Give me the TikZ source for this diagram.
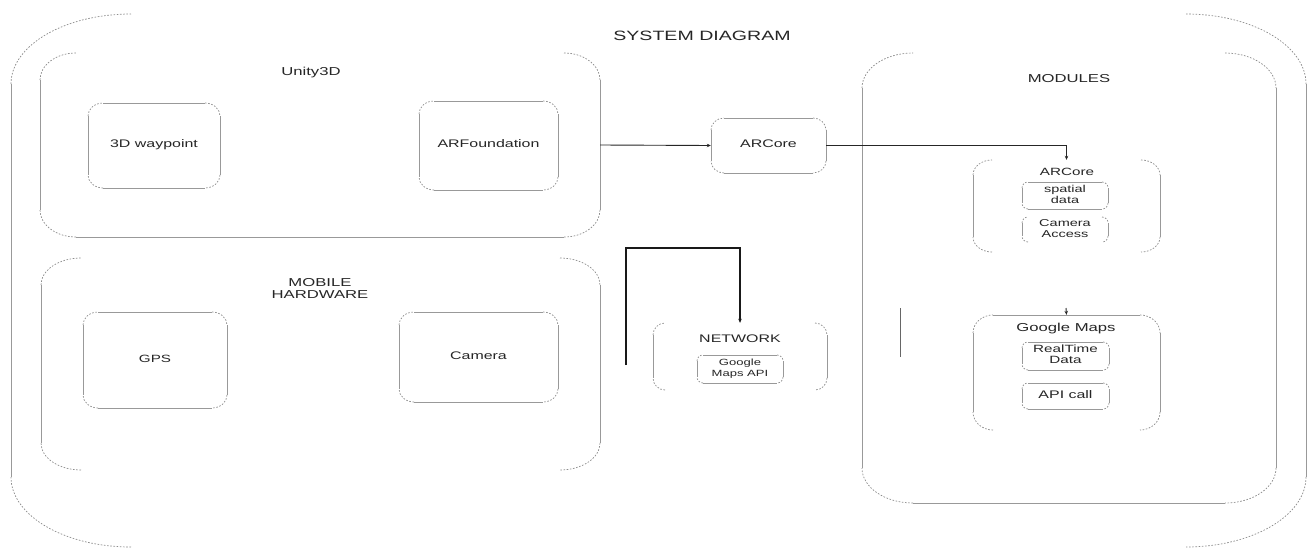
\documentclass[tikz,border=0pt]{standalone}
\usepackage{fontspec}
\setmainfont{Liberation Sans}
\usetikzlibrary{arrows.meta}
\newcommand\wtxt[3]{\scalebox{1.45}[1]{\fontsize{#1}{#2}\selectfont\begin{tabular}{@{}c@{}}#3\end{tabular}}}
\tikzset{
  cornerline/.style={draw=black!45, line width=0.7pt, dash pattern=on 1.6pt off 1.6pt},
  sideline/.style={draw=black!40, line width=0.8pt},
  lbl/.style={inner sep=0pt, text=black!85},
  conn/.style={draw=black!85, line width=0.9pt, -{Stealth[length=4pt,width=3.5pt]}},
  heavyconn/.style={draw=black!90, line width=1.3pt, -{Stealth[length=4pt,width=3.5pt]}},
  orphan/.style={draw=black!60, line width=1pt},
}
% name, x1, y1, x2, y2, rx, ry, top line?, bottom line?
\newcommand\contbox[9]{%
  \node[inner sep=0pt, minimum width={(#4-#2)*1pt}, minimum height={(#5-#3)*1pt}] (#1) at ({(#2+#4)/2},{(#3+#5)/2}) {};
  \draw[cornerline] (#2,{#3+#7}) arc[start angle=180,end angle=270,x radius=#6,y radius=#7];
  \draw[cornerline] ({#4-#6},#3) arc[start angle=270,end angle=360,x radius=#6,y radius=#7];
  \draw[cornerline] (#4,{#5-#7}) arc[start angle=0,end angle=90,x radius=#6,y radius=#7];
  \draw[cornerline] ({#2+#6},#5) arc[start angle=90,end angle=180,x radius=#6,y radius=#7];
  \draw[sideline] (#2,{#3+#7}) -- (#2,{#5-#7});
  \draw[sideline] (#4,{#3+#7}) -- (#4,{#5-#7});
  \ifnum#8=1 \draw[sideline] ({#2+#6},#3) -- ({#4-#6},#3);\fi
  \ifnum#9=1 \draw[sideline] ({#2+#6},#5) -- ({#4-#6},#5);\fi
}
\begin{document}
\begin{tikzpicture}[x=1pt,y=-1pt]
\useasboundingbox[fill=white] (0,0) rectangle (1312,549);

% containers
\contbox{outer}{11}{14}{1306}{547}{120}{70}{0}{0}
\contbox{unity}{40}{53}{600}{237}{36}{27}{0}{1}
\contbox{wp}{88}{103}{220}{188}{15}{13}{1}{1}
\contbox{arf}{419}{101}{558}{190}{15}{13}{1}{1}
\contbox{mobile}{41}{258}{600}{470}{40}{27}{0}{0}
\contbox{gps}{83}{312}{227}{408}{15}{13}{1}{1}
\contbox{cam}{399}{312}{558}{402}{15}{13}{1}{1}
\contbox{arcore}{711}{118}{826}{173}{13}{12}{1}{1}
\contbox{modules}{862}{53}{1276}{503}{51}{35}{0}{1}
\contbox{armod}{973}{160}{1160}{252}{19}{15}{0}{0}
\contbox{spatial}{1022}{182}{1108}{209}{6}{6}{1}{1}
\contbox{camacc}{1022}{217}{1108}{242}{6}{6}{0}{0}
\contbox{gmaps}{973}{315}{1160}{430}{20}{18}{1}{0}
\contbox{rtd}{1022}{342}{1109}{370}{6}{6}{1}{1}
\contbox{api}{1022}{383}{1109}{409}{6}{6}{1}{1}
\contbox{network}{653}{323}{827}{390}{12}{12}{0}{0}
\contbox{gmapi}{697}{355}{783}{383}{6}{6}{1}{1}

% labels
\node[lbl] (title) at (702,37) {\wtxt{13.5}{15}{SYSTEM DIAGRAM}};
\node[lbl] (unitylbl) at (311,73) {\wtxt{11.5}{12}{Unity3D}};
\node[lbl] (wptxt) at (wp) {\wtxt{11}{12}{3D waypoint}};
\node[lbl] (arftxt) at (arf) {\wtxt{11}{12}{ARFoundation}};
\node[lbl] (mobilelbl) at (320,290) {\wtxt{11.5}{12}{MOBILE\\HARDWARE}};
\node[lbl] (gpstxt) at (gps) {\wtxt{10.5}{12}{GPS}};
\node[lbl] (camtxt) at (cam) {\wtxt{11}{12}{Camera}};
\node[lbl] (arcoretxt) at (arcore) {\wtxt{11}{12}{ARCore}};
\node[lbl] (moduleslbl) at (1069,80) {\wtxt{11.5}{12}{MODULES}};
\node[lbl] (armodlbl) at (1067,173) {\wtxt{10.5}{12}{ARCore}};
\node[lbl] (spatialtxt) at (spatial) {\wtxt{10}{11}{spatial\\data}};
\node[lbl] (camacctxt) at (camacc) {\wtxt{10}{11}{Camera\\Access}};
\node[lbl] (gmapslbl) at (1066,329) {\wtxt{11.5}{12}{Google Maps}};
\node[lbl] (rtdtxt) at (rtd) {\wtxt{10.5}{11}{RealTime\\Data}};
\node[lbl] (apitxt) at (api) {\wtxt{11}{12}{API call}};
\node[lbl] (networklbl) at (740,340) {\wtxt{11}{12}{NETWORK}};
\node[lbl] (gmapitxt) at (gmapi) {\wtxt{9}{10.5}{Google\\Maps API}};

% connectors
\draw[conn] (unity.east) -- (arcore.west);
\draw[conn] (arcore.east) -| (armod.north);
\coordinate (netstart) at (626,365);
\coordinate (netbend) at (626,248);
\draw[heavyconn] (netstart) -- (netbend) -| (network.north);
\coordinate (orphtop) at (900,308);
\coordinate (orphbot) at (900,357);
\draw[orphan] (orphtop) -- (orphbot);
\coordinate (gmstub) at (1066,308);
\draw[conn] (gmstub) -- (gmaps.north);
\end{tikzpicture}
\end{document}
